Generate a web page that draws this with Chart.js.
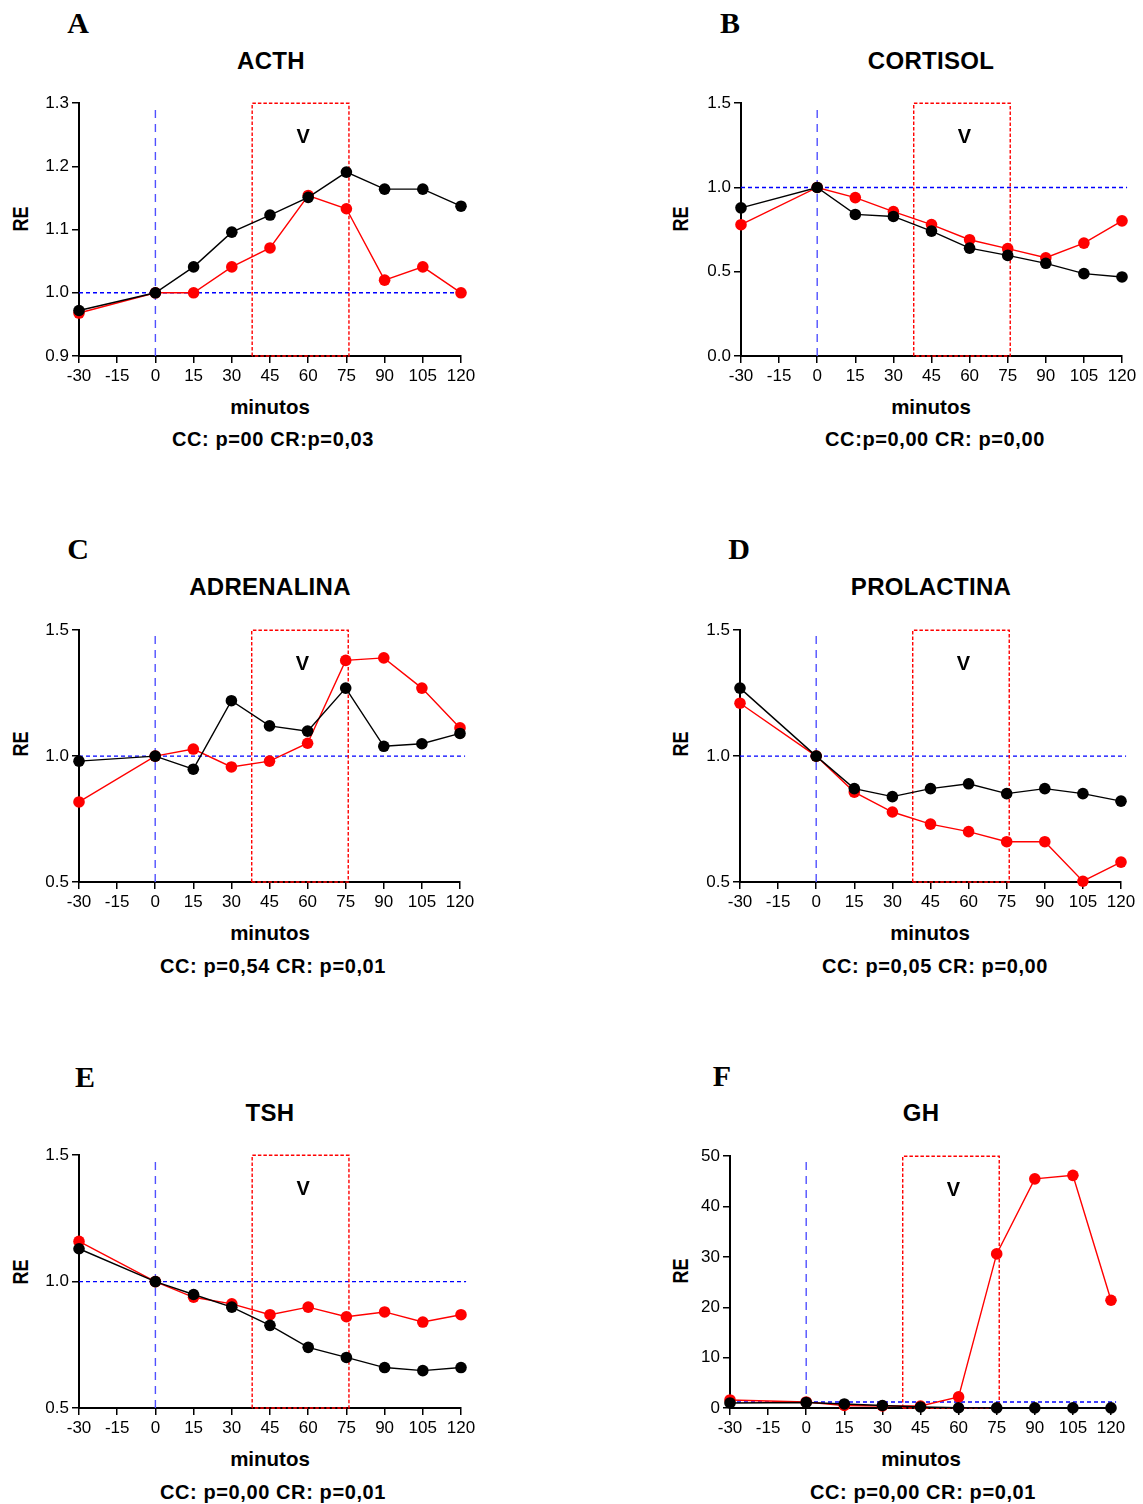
<!DOCTYPE html>
<html>
<head>
<meta charset="utf-8">
<script src="https://cdn.jsdelivr.net/npm/chart.js@4.4.1/dist/chart.umd.min.js"></script>
<style>
  html, body { margin: 0; padding: 0; background: #fff; }
  #page { position: relative; width: 1143px; height: 1504px; overflow: hidden; background: #fff; }
  .txt { position: absolute; white-space: nowrap; line-height: 1; transform: translate(-50%, -50%);
         font-family: "Liberation Sans", Arial, sans-serif; font-weight: bold; color: #000; }
  .letter { font-family: "Liberation Serif", "Times New Roman", serif; font-size: 30px; }
  .title { font-size: 24px; letter-spacing: 0.3px; }
  .xt { font-size: 20.5px; }
  .pt { font-size: 20px; letter-spacing: 0.6px; }
  .yt { font-size: 22px; transform: translate(-50%, -50%) rotate(-90deg) scaleX(0.82); }
  .wrap { position: absolute; }
</style>
</head>
<body>
<div id="page"></div>
<script>
// ---------- DATA ----------
const MINUTES = [-30, 0, 15, 30, 45, 60, 75, 90, 105, 120];
const X_TICKS = [-30, -15, 0, 15, 30, 45, 60, 75, 90, 105, 120];
const X_TICK_LABELS = ['-30', '-15', '0', '15', '30', '45', '60', '75', '90', '105', '120'];

const ACTH_CC = [0.972, 1.000, 1.041, 1.096, 1.123, 1.151, 1.191, 1.164, 1.164, 1.137];
const ACTH_CR = [0.968, 1.000, 1.000, 1.041, 1.071, 1.154, 1.133, 1.020, 1.041, 1.000];

const CORTISOL_CC = [0.879, 1.000, 0.840, 0.828, 0.741, 0.640, 0.597, 0.550, 0.489, 0.469];
const CORTISOL_CR = [0.779, 1.000, 0.940, 0.857, 0.780, 0.690, 0.637, 0.583, 0.670, 0.802];

const ADRENALINA_CC = [0.980, 1.000, 0.948, 1.220, 1.120, 1.099, 1.270, 1.039, 1.049, 1.090];
const ADRENALINA_CR = [0.818, 1.000, 1.028, 0.957, 0.980, 1.051, 1.380, 1.390, 1.270, 1.112];

const PROLACTINA_CC = [1.270, 1.000, 0.871, 0.839, 0.871, 0.890, 0.851, 0.871, 0.851, 0.821];
const PROLACTINA_CR = [1.210, 1.000, 0.857, 0.778, 0.730, 0.700, 0.660, 0.660, 0.503, 0.579];

const TSH_CC = [1.130, 1.000, 0.949, 0.899, 0.827, 0.740, 0.700, 0.660, 0.648, 0.660];
const TSH_CR = [1.159, 1.000, 0.938, 0.912, 0.869, 0.899, 0.861, 0.880, 0.840, 0.869];

const GH_CC = [1.0, 1.1, 0.8, 0.5, 0.2, 0.05, 0.02, 0.02, 0.02, 0.02];
const GH_CR = [1.6, 1.2, 0.5, 0.4, 0.4, 2.2, 30.6, 45.5, 46.2, 21.4];

const Y_TICKS_ACTH = [0.9, 1.0, 1.1, 1.2, 1.3];
const Y_LABELS_ACTH = ['0.9', '1.0', '1.1', '1.2', '1.3'];
const Y_TICKS_CORTISOL = [0.0, 0.5, 1.0, 1.5];
const Y_LABELS_CORTISOL = ['0.0', '0.5', '1.0', '1.5'];
const Y_TICKS_HALF = [0.5, 1.0, 1.5];
const Y_LABELS_HALF = ['0.5', '1.0', '1.5'];
const Y_TICKS_GH = [0, 10, 20, 30, 40, 50];
const Y_LABELS_GH = ['0', '10', '20', '30', '40', '50'];

const LETTERS = ['A', 'B', 'C', 'D', 'E', 'F'];
const TITLES = ['ACTH', 'CORTISOL', 'ADRENALINA', 'PROLACTINA', 'TSH', 'GH'];
const P_TEXTS = ['CC: p=00 CR:p=0,03', 'CC:p=0,00 CR: p=0,00', 'CC: p=0,54 CR: p=0,01',
                 'CC: p=0,05 CR: p=0,00', 'CC: p=0,00 CR: p=0,01', 'CC: p=0,00 CR: p=0,01'];
const X_TITLE = 'minutos';
const Y_TITLE = 'RE';

// window of the stimulus "V" (minutes) and reference values
const WINDOW_MIN = [38, 76];
const V_X = 58;
const V_Y = [1.246, 1.296, 1.363, 1.363, 1.363, 43.1];
const BASELINE = [1.0, 1.0, 1.0, 1.0, 1.0, 1.18];
const ZERO_TIME = 0;
const BASELINE_END = 122;

// ---------- LAYOUT ----------
const PANELS = [
  { cc: ACTH_CC, cr: ACTH_CR, yt: Y_TICKS_ACTH, yl: Y_LABELS_ACTH,
    area: {L: 79, R: 461, T: 102, B: 356},
    letter: [78, 23], title: [271, 61], xt: [270, 407], pt: [273, 439], ytp: [21, 219] },
  { cc: CORTISOL_CC, cr: CORTISOL_CR, yt: Y_TICKS_CORTISOL, yl: Y_LABELS_CORTISOL,
    area: {L: 741, R: 1122, T: 102, B: 356},
    letter: [730, 23], title: [931, 61], xt: [931, 407], pt: [935, 439], ytp: [681, 219] },
  { cc: ADRENALINA_CC, cr: ADRENALINA_CR, yt: Y_TICKS_HALF, yl: Y_LABELS_HALF,
    area: {L: 79, R: 460, T: 629, B: 882},
    letter: [78, 549], title: [270, 587], xt: [270, 933], pt: [273, 966], ytp: [21, 744] },
  { cc: PROLACTINA_CC, cr: PROLACTINA_CR, yt: Y_TICKS_HALF, yl: Y_LABELS_HALF,
    area: {L: 740, R: 1121, T: 629, B: 882},
    letter: [739, 549], title: [931, 587], xt: [930, 933], pt: [935, 966], ytp: [681, 744] },
  { cc: TSH_CC, cr: TSH_CR, yt: Y_TICKS_HALF, yl: Y_LABELS_HALF,
    area: {L: 79, R: 461, T: 1154, B: 1408},
    letter: [85, 1077], title: [270, 1113], xt: [270, 1459], pt: [273, 1492], ytp: [21, 1272] },
  { cc: GH_CC, cr: GH_CR, yt: Y_TICKS_GH, yl: Y_LABELS_GH,
    area: {L: 730, R: 1111, T: 1155, B: 1408},
    letter: [722, 1076], title: [921, 1113], xt: [921, 1459], pt: [923, 1492], ytp: [681, 1271] }
];

const page = document.getElementById('page');
function addText(cls, text, pos) {
  const d = document.createElement('div');
  d.className = 'txt ' + cls;
  d.textContent = text;
  d.style.left = pos[0] + 'px';
  d.style.top = pos[1] + 'px';
  page.appendChild(d);
}

const vLabelPlugin = {
  id: 'vLabel',
  afterDatasetsDraw(chart, args, opts) {
    const {ctx, scales} = chart;
    ctx.save();
    ctx.font = 'bold 20px "Liberation Sans", Arial, sans-serif';
    ctx.fillStyle = '#000';
    ctx.textAlign = 'center';
    ctx.textBaseline = 'middle';
    ctx.fillText('V', scales.x.getPixelForValue(opts.x), scales.y.getPixelForValue(opts.y));
    ctx.restore();
  }
};

const YW = 80, XH = 30, PAD_T = 12, PAD_R = 30, PAD_B = 10;
const TICK_FONT = { family: '"Liberation Sans", Arial, sans-serif', size: 17 };

PANELS.forEach((p, i) => {
  addText('letter', LETTERS[i], p.letter);
  addText('title', TITLES[i], p.title);
  addText('xt', X_TITLE, p.xt);
  addText('pt', P_TEXTS[i], p.pt);
  addText('yt', Y_TITLE, p.ytp);

  const a = p.area;
  const w = (a.R - a.L) + YW + PAD_R;
  const h = (a.B - a.T) + PAD_T + XH + PAD_B;
  const wrap = document.createElement('div');
  wrap.className = 'wrap';
  wrap.style.left = (a.L - YW) + 'px';
  wrap.style.top = (a.T - PAD_T) + 'px';
  wrap.style.width = w + 'px';
  wrap.style.height = h + 'px';
  const cv = document.createElement('canvas');
  cv.width = w; cv.height = h;
  cv.style.width = w + 'px'; cv.style.height = h + 'px';
  wrap.appendChild(cv);
  page.appendChild(wrap);

  const ymin = p.yt[0], ymax = p.yt[p.yt.length - 1];
  const range = ymax - ymin;
  const toXY = arr => MINUTES.map((m, k) => ({x: m, y: arr[k]}));

  const datasets = [
    { label: 'CC', data: toXY(p.cc), borderColor: '#000', backgroundColor: '#000',
      pointBackgroundColor: '#000', borderWidth: 1.4, pointRadius: 5.8, pointBorderWidth: 0,
      clip: false, order: 0 },
    { label: 'CR', data: toXY(p.cr), borderColor: '#ff0000', backgroundColor: '#ff0000',
      pointBackgroundColor: '#ff0000', borderWidth: 1.4, pointRadius: 5.8, pointBorderWidth: 0,
      clip: false, order: 1 },
    { label: 'window', data: [
        {x: WINDOW_MIN[0], y: ymin}, {x: WINDOW_MIN[0], y: ymax},
        {x: WINDOW_MIN[1], y: ymax}, {x: WINDOW_MIN[1], y: ymin}, {x: WINDOW_MIN[0], y: ymin}],
      borderColor: '#ff0000', borderWidth: 1.4, borderDash: [3.5, 2], pointRadius: 0,
      clip: false, order: 3 },
    { label: 'baseline', data: [{x: X_TICKS[0], y: BASELINE[i]}, {x: BASELINE_END, y: BASELINE[i]}],
      borderColor: '#0000ff', borderWidth: 1.4, borderDash: [4, 3], pointRadius: 0,
      clip: false, order: 4 },
    { label: 'zero', data: [{x: ZERO_TIME, y: ymin}, {x: ZERO_TIME, y: ymax - 0.022 * range}],
      borderColor: '#5050ff', borderWidth: 1.4, borderDash: [8, 6], pointRadius: 0,
      clip: false, order: 5 }
  ];

  new Chart(cv, {
    type: 'line',
    data: { datasets },
    plugins: [vLabelPlugin],
    options: {
      responsive: false,
      maintainAspectRatio: false,
      animation: false,
      events: [],
      layout: { padding: { left: 0, top: PAD_T, right: PAD_R, bottom: PAD_B } },
      elements: { line: { tension: 0, fill: false } },
      plugins: {
        legend: { display: false },
        tooltip: { enabled: false },
        title: { display: false },
        vLabel: { x: V_X, y: V_Y[i] }
      },
      scales: {
        x: {
          type: 'linear', min: X_TICKS[0], max: X_TICKS[X_TICKS.length - 1],
          afterFit: s => { s.height = XH; },
          afterBuildTicks: s => { s.ticks = X_TICKS.map(v => ({value: v})); },
          ticks: { font: TICK_FONT, color: '#000', padding: 3, maxRotation: 0, autoSkip: false,
                   callback: (v, k) => X_TICK_LABELS[k] },
          grid: { display: true, drawOnChartArea: false, drawTicks: true, tickLength: 7,
                  color: '#000', lineWidth: 1.5 },
          border: { display: true, color: '#000', width: 2 }
        },
        y: {
          type: 'linear', min: ymin, max: ymax,
          afterFit: s => { s.width = YW; },
          afterBuildTicks: s => { s.ticks = p.yt.map(v => ({value: v})); },
          ticks: { font: TICK_FONT, color: '#000', padding: 3, autoSkip: false,
                   callback: (v, k) => p.yl[k] },
          grid: { display: true, drawOnChartArea: false, drawTicks: true, tickLength: 7,
                  color: '#000', lineWidth: 1.5 },
          border: { display: true, color: '#000', width: 2 }
        }
      }
    }
  });
});
</script>
</body>
</html>
